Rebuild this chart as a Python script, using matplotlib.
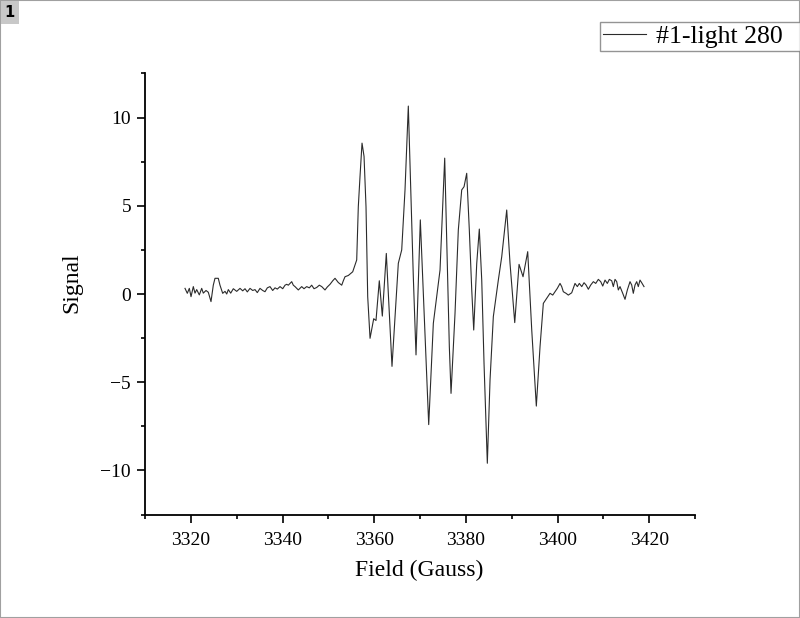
import matplotlib
matplotlib.use('Agg')
import matplotlib.pyplot as plt
from matplotlib.patches import Rectangle
from matplotlib.ticker import MultipleLocator

# GLOBAL STYLES
plt.rcParams['font.family'] = ['Liberation Serif', 'DejaVu Serif']
line_color = '#2b2b2b'
frame_color = '#a0a0a0'

# DATA
field = [
    # left baseline
    3318.73, 3319.23, 3319.67, 3320.04, 3320.54, 3320.91, 3321.28, 3321.85,
    3322.37, 3322.72, 3323.31, 3323.81, 3324.40, 3324.90, 3325.27, 3325.99,
    3326.36, 3326.95, 3327.46, 3327.83, 3328.18, 3328.70, 3329.27, 3330.01,
    3330.73, 3331.32, 3331.82, 3332.32, 3332.91, 3333.50, 3334.00, 3334.50,
    3335.09, 3335.68, 3336.18, 3336.69, 3337.27, 3337.86, 3338.37, 3338.87,
    3339.46, 3340.05, 3340.55, 3340.92, 3341.27, 3342.01, 3342.36, 3342.73,
    3343.45, 3344.19, 3344.69, 3345.28, 3345.85, 3346.37, 3346.88, 3347.46,
    3348.03, 3348.56, 3349.27, 3349.78, 3350.37, 3350.96, 3351.46, 3352.18,
    3352.92, 3353.27, 3353.64, 3354.36, 3355.32, 3355.82, 3356.19,
    # hyperfine lines
    3356.54, 3356.91, 3357.35, 3357.79, 3358.22, 3358.59, 3359.10, 3359.90,
    3360.40, 3361.12, 3361.78, 3362.65, 3363.89, 3365.27, 3366.01, 3366.73,
    3367.45, 3367.97, 3368.54, 3369.13, 3370.07, 3370.90, 3371.90, 3372.91,
    3374.37, 3375.39, 3375.96, 3376.40, 3376.77, 3377.64, 3378.36, 3379.10,
    3379.61, 3380.19, 3380.76, 3381.29, 3381.72, 3382.38, 3382.94, 3383.47,
    3383.97, 3384.69, 3385.28, 3386.00, 3387.09, 3387.83, 3388.92, 3389.64,
    3390.67, 3391.61, 3392.48, 3393.50, 3394.38, 3395.38, 3396.19,
    # right baseline
    3396.91, 3397.65, 3398.37, 3398.96, 3399.46, 3399.96, 3400.55, 3400.92,
    3401.27, 3401.86, 3402.36, 3403.10, 3403.82, 3404.33, 3404.76, 3405.29,
    3405.79, 3406.23, 3406.73, 3407.25, 3407.82, 3408.34, 3408.91, 3409.43,
    3409.87, 3410.37, 3410.87, 3411.31, 3411.83, 3412.18, 3412.55, 3412.92,
    3413.27, 3413.64, 3414.23, 3414.73, 3415.24, 3415.82, 3416.19, 3416.54,
    3416.91, 3417.28, 3417.63, 3418.00, 3418.37, 3418.87,
]
signal = [
    0.32, 0.04, 0.32, -0.15, 0.42, 0.05, 0.25, -0.05,
    0.32, 0.05, 0.20, 0.10, -0.43, 0.50, 0.89, 0.89,
    0.50, 0.04, 0.15, 0.00, 0.25, 0.05, 0.30, 0.15,
    0.32, 0.18, 0.30, 0.12, 0.32, 0.20, 0.25, 0.08,
    0.32, 0.20, 0.13, 0.35, 0.42, 0.20, 0.35, 0.28,
    0.42, 0.30, 0.50, 0.55, 0.50, 0.70, 0.50, 0.42,
    0.23, 0.42, 0.30, 0.42, 0.35, 0.50, 0.30, 0.37,
    0.50, 0.42, 0.23, 0.40, 0.55, 0.75, 0.89, 0.65,
    0.50, 0.75, 0.98, 1.05, 1.26, 1.64, 1.93,
    4.95, 6.65, 8.55, 7.80, 4.95, -0.15, -2.51, -1.40,
    -1.50, 0.75, -1.25, 2.30, -4.10, 1.74, 2.50, 5.90,
    10.65, 6.08, 0.98, -3.45, 4.20, -1.00, -7.40, -1.66,
    1.36, 7.70, 1.74, -2.98, -5.63, -1.10, 3.63, 5.90,
    6.08, 6.84, 3.63, 0.23, -2.04, 1.74, 3.68, 0.79,
    -3.93, -9.59, -4.87, -1.28, 0.79, 2.11, 4.76, 1.74,
    -1.62, 1.68, 0.98, 2.40, -2.04, -6.35, -2.98,
    -0.53, -0.24, 0.04, -0.06, 0.13, 0.32, 0.60, 0.42,
    0.13, 0.04, -0.06, 0.07, 0.60, 0.42, 0.60, 0.42,
    0.64, 0.51, 0.27, 0.51, 0.70, 0.60, 0.83, 0.70,
    0.45, 0.79, 0.60, 0.83, 0.75, 0.42, 0.83, 0.70,
    0.23, 0.42, 0.04, -0.30, 0.23, 0.70, 0.51, 0.04,
    0.51, 0.70, 0.42, 0.79, 0.64, 0.42,
]
series_name = '#1-light 280'

# FIGURE
fig = plt.figure(figsize=(8, 6.18), dpi=100)
ax = fig.add_axes([0.18125, 0.1673, 0.6875, 0.7139])

ax.plot(field, signal, color=line_color, linewidth=0.8, label=series_name)

# axes styling (Origin-like: left + bottom only, ticks out)
ax.set_xlim(3310, 3430)
ax.set_ylim(-12.5, 12.5)
for side in ['top', 'right']:
    ax.spines[side].set_visible(False)
for side in ['left', 'bottom']:
    ax.spines[side].set_linewidth(1.3)
ax.xaxis.set_major_locator(MultipleLocator(20))
ax.xaxis.set_minor_locator(MultipleLocator(10))
ax.yaxis.set_major_locator(MultipleLocator(5))
ax.yaxis.set_minor_locator(MultipleLocator(2.5))
ax.tick_params(which='major', direction='out', length=5.5, width=1.2, labelsize=14)
ax.tick_params(which='minor', direction='out', length=3, width=1.2)
ax.tick_params(axis='x', which='major', pad=7)
ax.tick_params(axis='y', which='major', pad=4.5)

ax.set_xlabel('Field (Gauss)', fontsize=17, va='center')
ax.xaxis.set_label_coords(0.498, -0.1256)
ax.set_ylabel('Signal', fontsize=17, va='center')
ax.yaxis.set_label_coords(-0.1327, 0.525)

# legend box runs past the right edge of the figure, like the original
leg_top = 1 - 22 / 618
leg = fig.legend(loc='upper left', bbox_to_anchor=(600 / 800, leg_top - 0.3, 0.3, 0.3),
                 mode='expand', fontsize=18.5, frameon=True, fancybox=False,
                 borderaxespad=0, borderpad=0.12, handlelength=1.67, handletextpad=0.4)
leg.get_frame().set_edgecolor('#7a7a7a')
leg.get_frame().set_linewidth(1.0)

# layer frame + layer tag
fig.patches.append(Rectangle((0, 0), 1, 1, transform=fig.transFigure,
                             fill=False, edgecolor=frame_color, linewidth=1.5))
fig.text(0.006, 0.992, '1', fontsize=10.5, fontweight='bold', family='DejaVu Sans',
         ha='left', va='top',
         bbox=dict(facecolor='#c8c8c8', edgecolor='none', pad=3))

fig.savefig('out.png', dpi=100)
